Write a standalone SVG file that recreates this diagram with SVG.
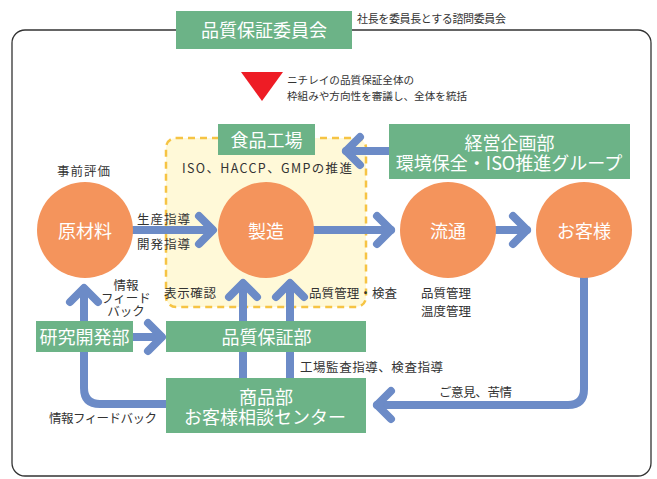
<svg xmlns="http://www.w3.org/2000/svg" width="657" height="479" viewBox="0 0 657 479">
<style>
.t{font-family:"Noto Sans CJK JP","Noto Sans",sans-serif;}
.lbl{font-size:12.5px;fill:#333;}
.big{font-size:18px;fill:#fff;text-anchor:middle;}
.green{fill:#6cb387;}
.circ{fill:#f4945c;}
.ln{fill:none;stroke:#6c8bc7;stroke-width:8;stroke-linecap:round;stroke-linejoin:round;}
</style>
<rect x="0" y="0" width="657" height="479" fill="#fff"/>
<rect x="12" y="30" width="639" height="446" rx="13" fill="none" stroke="#333" stroke-width="1.3"/>

<g id="factory-area">
<rect x="166" y="138" width="200" height="169" rx="10" fill="#fff9d8" stroke="#f6c444" stroke-width="2.5" stroke-dasharray="7,5"/>
</g>

<g id="connectors">
<path class="ln" d="M133 230H212"/>
<path class="ln" d="M199 216L213 230L199 244"/>
<path class="ln" d="M314 230H391"/>
<path class="ln" d="M377 216L391 230L377 244"/>
<path class="ln" d="M496 230H527"/>
<path class="ln" d="M513 216L527 230L513 244"/>
<path class="ln" d="M389 151H346"/>
<path class="ln" d="M360 137L346 151L360 165"/>
<path class="ln" d="M584 278V389Q584 405 568 405H377"/>
<path class="ln" d="M391 391L377 405L391 419"/>
<path class="ln" d="M166 404H100Q84 404 84 388V289"/>
<path class="ln" d="M70 302L84 288L98 302"/>
<path class="ln" d="M133 337H161"/>
<path class="ln" d="M148 323L162 337L148 351"/>
<path class="ln" d="M243 378V284"/>
<path class="ln" d="M229 297L243 283L257 297"/>
<path class="ln" d="M290 378V284"/>
<path class="ln" d="M276 297L290 283L304 297"/>
</g>

<g id="committee">
<rect class="green" x="176" y="11" width="176" height="38"/>
<text class="t big" x="264" y="37" font-size="19" textLength="126" lengthAdjust="spacingAndGlyphs">品質保証委員会</text>
<text class="t" x="357" y="22.5" font-size="11" fill="#333" textLength="149">社長を委員長とする諮問委員会</text>
</g>

<g id="committee-note">
<path d="M241 72H283L262 101Z" fill="#ee1c25"/>
<text class="t" font-size="10.6" fill="#333"><tspan x="287" y="84">ニチレイの品質保証全体の</tspan><tspan x="287" y="99.5">枠組みや方向性を審議し、全体を統括</tspan></text>
</g>

<g id="shokuhin-kojo">
<rect class="green" x="218" y="124" width="97" height="31"/>
<text class="t big" x="266.5" y="147">食品工場</text>
<text class="t lbl" x="182" y="173" textLength="170">ISO、HACCP、GMPの推進</text>
</g>

<g id="keiei">
<rect class="green" x="389" y="124" width="241" height="55"/>
<text class="t big"><tspan x="509.5" y="149.5">経営企画部</tspan><tspan x="509" y="170">環境保全・ISO推進グループ</tspan></text>
</g>

<g id="genzairyo">
<circle class="circ" cx="85" cy="230" r="48"/>
<text class="t big" x="85" y="238">原材料</text>
<text class="t lbl" x="57" y="175.5" textLength="53">事前評価</text>
</g>

<g id="seizo">
<circle class="circ" cx="266" cy="230" r="48"/>
<text class="t big" x="266" y="238">製造</text>
</g>

<g id="ryutsu">
<circle class="circ" cx="448" cy="230" r="48"/>
<text class="t big" x="448" y="238">流通</text>
<text class="t lbl"><tspan x="421" y="297.5">品質管理</tspan><tspan x="421" y="316">温度管理</tspan></text>
</g>

<g id="okyakusama">
<circle class="circ" cx="584" cy="230" r="48"/>
<text class="t big" x="584" y="238">お客様</text>
</g>

<g id="kenkyu">
<rect class="green" x="36" y="321" width="97" height="31"/>
<text class="t big" x="84.5" y="344">研究開発部</text>
</g>

<g id="hinshitsu-hosho">
<rect class="green" x="166" y="321" width="200" height="31"/>
<text class="t big" x="266.5" y="344">品質保証部</text>
</g>

<g id="shohin">
<rect class="green" x="166" y="378" width="200" height="55"/>
<text class="t big"><tspan x="266" y="404">商品部</tspan><tspan x="265" y="424">お客様相談センター</tspan></text>
</g>

<g id="labels">
<text class="t lbl" x="137" y="223.5" textLength="53">生産指導</text>
<text class="t lbl" x="137" y="248.5" textLength="53">開発指導</text>
<text class="t lbl" text-anchor="middle"><tspan x="126" y="290">情報</tspan><tspan x="126" y="303">フィード</tspan><tspan x="126" y="316">バック</tspan></text>
<text class="t lbl" x="164" y="297.5" textLength="52">表示確認</text>
<text class="t lbl" x="309" y="297.5" textLength="88">品質管理・検査</text>
<text class="t lbl" x="300" y="371.5" textLength="143">工場監査指導、検査指導</text>
<text class="t lbl" x="439" y="396.5" textLength="73">ご意見、苦情</text>
<text class="t lbl" x="49" y="423" textLength="108">情報フィードバック</text>
</g>
</svg>
